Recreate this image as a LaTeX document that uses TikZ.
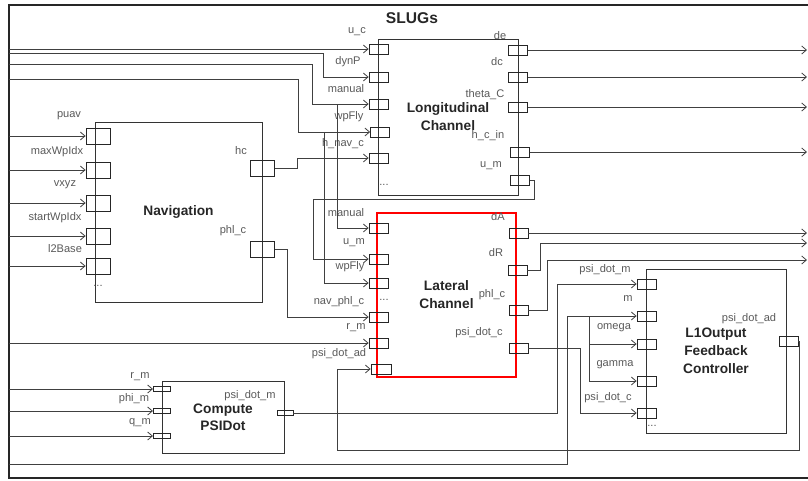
\documentclass[tikz,border=0pt]{standalone}
\usepackage{fontspec}
\setmainfont{Liberation Sans}
\usetikzlibrary{arrows.meta}
\begin{document}
\begin{tikzpicture}[x=0.75pt,y=-0.75pt,
  port/.style={draw=black!85, line width=0.6pt, minimum width=14.25pt, minimum height=7.5pt, inner sep=0pt},
  navport/.style={port, minimum width=18pt, minimum height=12pt},
  cport/.style={port, minimum width=13pt, minimum height=4pt},
  blk/.style={draw=black!80, line width=0.6pt, inner sep=0pt, align=center, text=black!85,
    font=\fontsize{10.3}{13.5}\selectfont\bfseries},
  lbl/.style={font=\fontsize{8.3}{10}\selectfont, text=black!65, inner sep=0pt},
  wire/.style={draw=black!75, line width=0.6pt},
  arr/.style={wire, -{Straight Barb[length=3.5pt,width=6pt]}}
]
\useasboundingbox (0,0) rectangle (808,480);
% frame
\draw[line width=0.8pt, black!85] (812,5) -- (9,5) -- (9,478) -- (812,478);
\node[font=\fontsize{11.7}{12}\selectfont\bfseries, text=black!85] (title) at (412,18) {SLUGs};

% blocks
\node[blk, minimum width=105pt, minimum height=117pt] (lon) at (448,117) {Longitudinal\\Channel};
\node[blk, draw=red, line width=1.4pt, minimum width=104.25pt, minimum height=123pt] (lat) at (446.5,295) {Lateral\\Channel};
\node[blk, minimum width=105pt, minimum height=123pt] (l1) at (716,351) {L1Output\\Feedback\\Controller};
\node[blk, minimum width=125.25pt, minimum height=135pt] (nav) at (178.5,212) {Navigation};
\node[blk, minimum width=91.5pt, minimum height=54pt, font=\fontsize{10.3}{12.8}\selectfont\bfseries] (comp) at (223,417) {Compute\\PSIDot};

% Longitudinal ports
\node[port] (lonuc) at (378.5,49) {};
\node[port] (londyn) at (378.5,77) {};
\node[port] (lonman) at (378.5,104) {};
\node[port] (lonwp) at (380,132) {};
\node[port] (lonhnav) at (378.5,158) {};
\node[port] (londe) at (518,50) {};
\node[port] (londc) at (518,77) {};
\node[port] (lonth) at (518,107) {};
\node[port] (lonhc) at (520,152) {};
\node[port] (lonum) at (520,180) {};
\node[lbl] (l-uc) at (357,32) {u\_c};
\node[lbl] (l-dyn) at (348,62) {dynP};
\node[lbl] (l-man) at (346,89) {manual};
\node[lbl] (l-wp) at (349,117) {wpFly};
\node[lbl] (l-hnav) at (343,144) {h\_nav\_c};
\node[lbl] (l-de) at (500,36) {de};
\node[lbl] (l-dc) at (497,62) {dc};
\node[lbl] (l-th) at (485,95) {theta\_C};
\node[lbl] (l-hc) at (488,136) {h\_c\_in};
\node[lbl] (l-um) at (491,166) {u\_m};
\node[lbl] (l-dots1) at (384,185) {...};

% Lateral ports
\node[port] (latman) at (378.5,228) {};
\node[port] (latum) at (378.5,259) {};
\node[port] (latwp) at (378.5,283) {};
\node[port] (latnav) at (378.5,317) {};
\node[port] (latrm) at (378.5,343) {};
\node[port, minimum width=15pt] (latad) at (381,369) {};
\node[port] (latdA) at (518.5,233) {};
\node[port] (latdR) at (517.5,270) {};
\node[port] (latphl) at (518.5,310) {};
\node[port] (latpsc) at (518.5,348) {};
\node[lbl] (m-man) at (346,213) {manual};
\node[lbl] (m-um) at (354,243) {u\_m};
\node[lbl] (m-wp) at (350,267) {wpFly};
\node[lbl] (m-nav) at (339,302) {nav\_phl\_c};
\node[lbl] (m-dots) at (384,300) {...};
\node[lbl] (m-rm) at (356,328) {r\_m};
\node[lbl] (m-ad) at (339,354) {psi\_dot\_ad};
\node[lbl] (m-dA) at (498,217) {dA};
\node[lbl] (m-dR) at (496,253) {dR};
\node[lbl] (m-phl) at (492,295) {phl\_c};
\node[lbl] (m-psc) at (479,333) {psi\_dot\_c};

% L1 ports
\node[port] (l1psm) at (646.5,284) {};
\node[port] (l1m) at (646.5,316) {};
\node[port] (l1om) at (646.5,344) {};
\node[port] (l1ga) at (646.5,381) {};
\node[port] (l1psc) at (646.5,413) {};
\node[port] (l1ad) at (788.5,341) {};
\node[lbl] (n-psm) at (605,270) {psi\_dot\_m};
\node[lbl] (n-m) at (628,299) {m};
\node[lbl] (n-om) at (614,328) {omega};
\node[lbl] (n-ga) at (615,365) {gamma};
\node[lbl] (n-psc) at (608,398) {psi\_dot\_c};
\node[lbl] (n-ad) at (749,319) {psi\_dot\_ad};
\node[lbl] (n-dots) at (652,426) {...};

% Navigation ports
\node[navport] (navpu) at (98,136) {};
\node[navport] (navmx) at (98,170) {};
\node[navport] (navvx) at (98,203) {};
\node[navport] (navst) at (98,236) {};
\node[navport] (navl2) at (98,266) {};
\node[navport] (navhc) at (262.5,168) {};
\node[navport] (navphl) at (262.5,249) {};
\node[lbl] (v-pu) at (69,116) {puav};
\node[lbl] (v-mx) at (57,152) {maxWpIdx};
\node[lbl] (v-vx) at (65,185) {vxyz};
\node[lbl] (v-st) at (55,218) {startWpIdx};
\node[lbl] (v-l2) at (65,249) {l2Base};
\node[lbl] (v-hc) at (241,151) {hc};
\node[lbl] (v-phl) at (233,231) {phl\_c};
\node[lbl] (v-dots) at (98,286) {...};

% Compute ports
\node[cport] (crm) at (162,389) {};
\node[cport] (cphi) at (162,411) {};
\node[cport] (cqm) at (162,436) {};
\node[cport, minimum width=12pt] (cpsm) at (285,413) {};
\node[lbl] (c-rm) at (140,377) {r\_m};
\node[lbl] (c-phi) at (134,399) {phi\_m};
\node[lbl] (c-qm) at (140,423) {q\_m};
\node[lbl] (c-psm) at (250,396) {psi\_dot\_m};

% free ends
\coordinate (lft) at (9,0);
\coordinate (rgt) at (807,0);
\coordinate (inDyn) at (9,53);
\coordinate (inMan) at (9,64);
\coordinate (inWp) at (9,79);
\coordinate (inM) at (9,464);

% inputs from the left border
\draw[arr] (lonuc.west -| lft) -- (lonuc.west);
\draw[arr] (inDyn) -- (323,53) |- (londyn.west);
\draw[arr] (inMan) -- (312,64) |- (lonman.west);
\draw[arr] (inWp) -- (298,79) |- (lonwp.west);
\foreach \p in {navpu,navmx,navvx,navst,navl2,latrm,crm,cphi,cqm}
  \draw[arr] (\p.west -| lft) -- (\p.west);
\draw[arr] (inM) -- (567,464) |- (l1m.west);
\draw[arr] (589,316) |- (l1om.west);
\draw[arr] (589,316) |- (l1ga.west);

% branches and internal wires
\draw[arr] (337,104) |- (latman.west);
\draw[arr] (324,132) |- (latwp.west);
\draw[arr] (navhc.east) -- (297,168) |- (lonhnav.west);
\draw[arr] (navphl.east) -- (287,249) |- (latnav.west);
\draw[arr] (lonum.east) -- (534,180) -- (534,199) -- (313,199) |- (latum.west);
\draw[arr] (latpsc.east) -- (580,348) |- (l1psc.west);
\draw[arr] (cpsm.east) -- (557,413) |- (l1psm.west);
\draw[arr] (l1ad.east) -- (799,341) -- (799,450) -- (337,450) |- (latad.west);

% outputs to the right border
\foreach \p in {londe,londc,lonth,lonhc,latdA}
  \draw[arr] (\p.east) -- (\p.east -| rgt);
\draw[arr] (latdR.east) -- (540,270) -- (540,243) -- (807,243);
\draw[arr] (latphl.east) -- (547,310) -- (547,260) -- (807,260);
\end{tikzpicture}
\end{document}
